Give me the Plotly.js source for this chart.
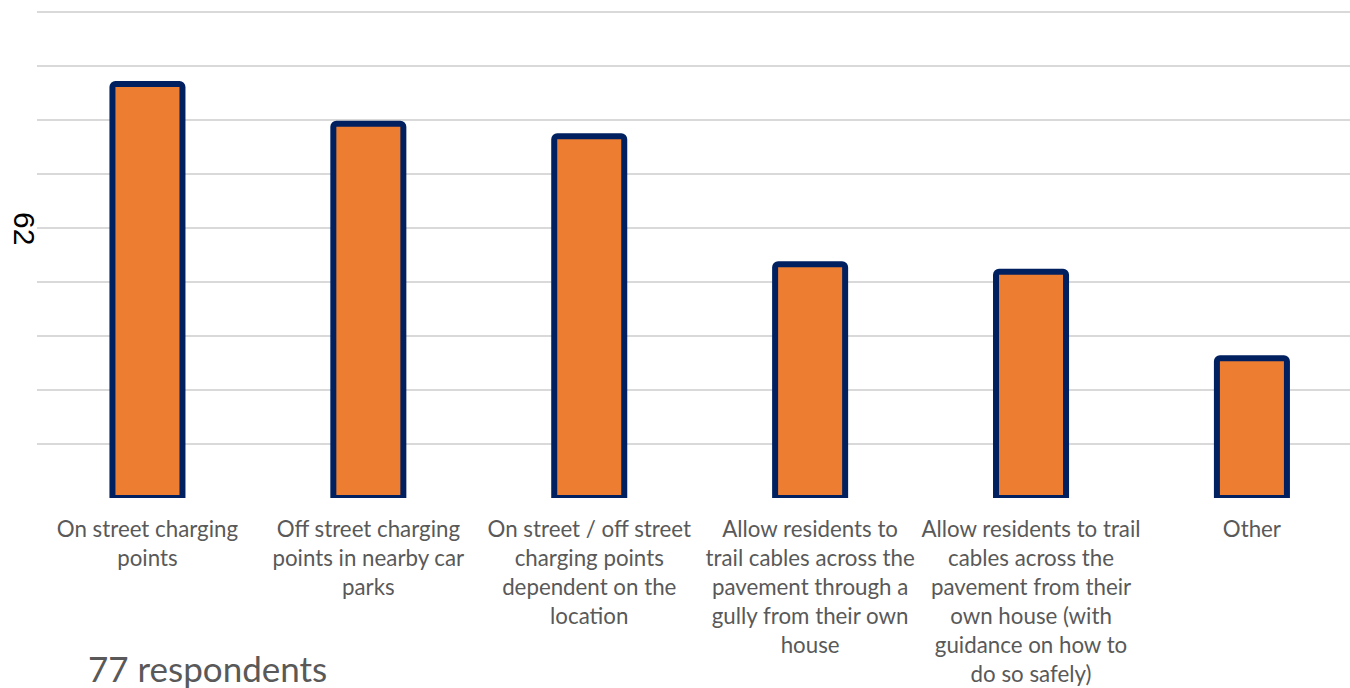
<!DOCTYPE html>
<html>
<head>
<meta charset="utf-8">
<script src="https://cdn.plot.ly/plotly-3.0.1.min.js"></script>
<style>html,body{margin:0;padding:0;background:#fff;}#chart{width:1350px;height:688px;}</style>
</head>
<body>
<div id="chart"></div>
<script>
const categories = [
  "On street charging<br>points",
  "Off street charging<br>points in nearby car<br>parks",
  "On street / off street<br>charging points<br>dependent on the<br>location",
  "Allow residents to<br>trail cables across the<br>pavement through a<br>gully from their own<br>house",
  "Allow residents to trail<br>cables across the<br>pavement from their<br>own house (with<br>guidance on how to<br>do so safely)",
  "Other"
];
const values = [7.67, 6.93, 6.70, 4.33, 4.19, 2.59];
const gridVals = [0, 1, 2, 3, 4, 5, 6, 7, 8, 9];
const axisLabel = "62";
const noteText = "77 respondents";

const fontFam = "Lato, 'Open Sans', sans-serif";
const xIdx = categories.map((c, i) => i);

Plotly.newPlot("chart", [{
  type: "bar",
  x: xIdx,
  y: values,
  width: 0.317,
  marker: {color: "#ED7D31", line: {color: "#002060", width: 6}, cornerradius: 3},
  hoverinfo: "skip"
}], {
  width: 1350, height: 688,
  margin: {l: 37, r: 0, t: 11, b: 190},
  paper_bgcolor: "#fff", plot_bgcolor: "#fff",
  showlegend: false,
  xaxis: {
    range: [-0.5, 5.444],
    tickmode: "array", tickvals: xIdx, ticktext: categories,
    tickfont: {family: fontFam, size: 22.3, color: "#595959"},
    showgrid: false, zeroline: false, showline: false, ticks: "",
    tickangle: 0, ticklabelstandoff: 16
  },
  yaxis: {
    range: [0, 9.02],
    tickmode: "array", tickvals: gridVals,
    showticklabels: false,
    showgrid: true, gridcolor: "#d9d9d9", gridwidth: 2,
    zeroline: false, showline: false, ticks: ""
  },
  annotations: [
    {text: axisLabel, xref: "paper", yref: "y", x: 0, y: 5, xshift: -12, xanchor: "center", yanchor: "middle",
     showarrow: false, textangle: 90, font: {family: "Liberation Sans, Arial, sans-serif", size: 30, color: "#000"}},
    {text: noteText, xref: "paper", yref: "paper", x: 0, y: 0, xshift: 49, yshift: -170, xanchor: "left", yanchor: "middle",
     showarrow: false, font: {family: fontFam, size: 35, color: "#595959"}}
  ]
}, {displayModeBar: false, staticPlot: true});
</script>
</body>
</html>
